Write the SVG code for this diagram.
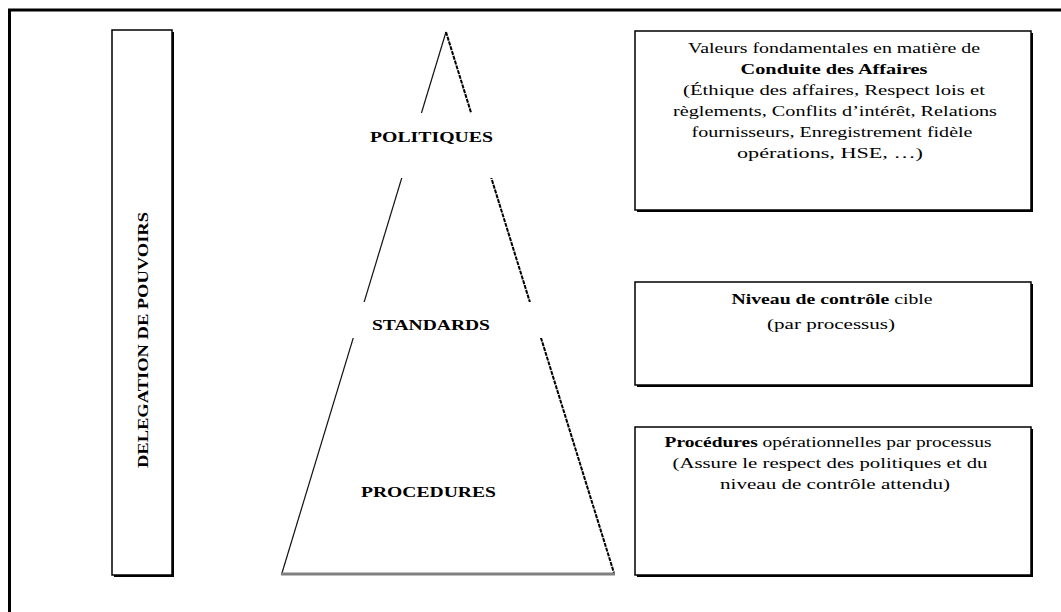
<svg xmlns="http://www.w3.org/2000/svg" width="1061" height="612" viewBox="0 0 1061 612">
<style>
  .b { font-weight: bold; }
  .box { fill: #fff; stroke: #000; stroke-width: 1.5; }
  .shadow { fill: #000; }
  .lbl { font-family: "Liberation Serif", "Times New Roman", serif; font-weight: bold; font-size: 14px; fill: #000; }
  .txt { font-family: "Liberation Serif", "Times New Roman", serif; font-size: 15px; fill: #000; text-anchor: middle; }
</style>
<rect width="1061" height="612" fill="#fff"/>
<path d="M9.5 612 V10 H1061" fill="none" stroke="#000" stroke-width="3"/>

<g id="delegation">
  <rect class="shadow" x="114" y="32" width="60" height="545"/>
  <rect class="box" x="112" y="30" width="60" height="545"/>
  <text class="lbl" font-family="Liberation Serif, serif" transform="translate(148,340) rotate(-90)" text-anchor="middle" textLength="256" lengthAdjust="spacingAndGlyphs">DELEGATION DE POUVOIRS</text>
</g>

<g id="pyramid">
  <polygon points="446,32 282,573 614,573" fill="#fff" stroke="none"/>
  <line x1="446" y1="32" x2="282" y2="573" stroke="#111" stroke-width="1.2"/>
  <line x1="446" y1="32" x2="614" y2="573" stroke="#000" stroke-width="2" stroke-dasharray="4 1"/>
  <line x1="281" y1="574" x2="615" y2="574" stroke="#808080" stroke-width="3"/>
  <rect x="352" y="113" width="188" height="65" fill="#fff"/>
  <rect x="350" y="302" width="192" height="36" fill="#fff"/>
  <text id="politiques" class="lbl" font-family="Liberation Serif, serif" x="370" y="142" textLength="123" lengthAdjust="spacingAndGlyphs">POLITIQUES</text>
  <text id="standards" class="lbl" font-family="Liberation Serif, serif" x="372" y="330" textLength="118" lengthAdjust="spacingAndGlyphs">STANDARDS</text>
  <text id="procedures" class="lbl" font-family="Liberation Serif, serif" x="361" y="497" textLength="135" lengthAdjust="spacingAndGlyphs">PROCEDURES</text>
</g>

<g id="box-politiques" font-family="Liberation Serif, serif">
  <rect class="shadow" x="637" y="33" width="396" height="179"/>
  <rect class="box" x="635" y="31" width="396" height="179"/>
  <text class="txt" x="834" y="53" textLength="292" lengthAdjust="spacingAndGlyphs">Valeurs fondamentales en matière de</text>
  <text class="txt b" x="834" y="74" textLength="187" lengthAdjust="spacingAndGlyphs">Conduite des Affaires</text>
  <text class="txt" x="834" y="95" textLength="302" lengthAdjust="spacingAndGlyphs">(Éthique des affaires, Respect lois et</text>
  <text class="txt" x="835" y="116" textLength="324" lengthAdjust="spacingAndGlyphs">règlements, Conflits d’intérêt, Relations</text>
  <text class="txt" x="832" y="137" textLength="281" lengthAdjust="spacingAndGlyphs">fournisseurs, Enregistrement fidèle</text>
  <text class="txt" x="830" y="158" textLength="186" lengthAdjust="spacingAndGlyphs">opérations, HSE, …)</text>
</g>

<g id="box-standards" font-family="Liberation Serif, serif">
  <rect class="shadow" x="637" y="284" width="396" height="103"/>
  <rect class="box" x="635" y="282" width="396" height="103"/>
  <text class="txt" x="832" y="304" textLength="201" lengthAdjust="spacingAndGlyphs"><tspan class="b">Niveau de contrôle</tspan> cible</text>
  <text class="txt" x="831" y="329" textLength="128" lengthAdjust="spacingAndGlyphs">(par processus)</text>
</g>

<g id="box-procedures" font-family="Liberation Serif, serif">
  <rect class="shadow" x="637" y="429" width="396" height="148"/>
  <rect class="box" x="635" y="427" width="396" height="148"/>
  <text class="txt" x="828" y="447" textLength="327" lengthAdjust="spacingAndGlyphs"><tspan class="b">Procédures</tspan> opérationnelles par processus</text>
  <text class="txt" x="830" y="468" textLength="315" lengthAdjust="spacingAndGlyphs">(Assure le respect des politiques et du</text>
  <text class="txt" x="835" y="489" textLength="230" lengthAdjust="spacingAndGlyphs">niveau de contrôle attendu)</text>
</g>

<g id="connectors"></g>
</svg>
